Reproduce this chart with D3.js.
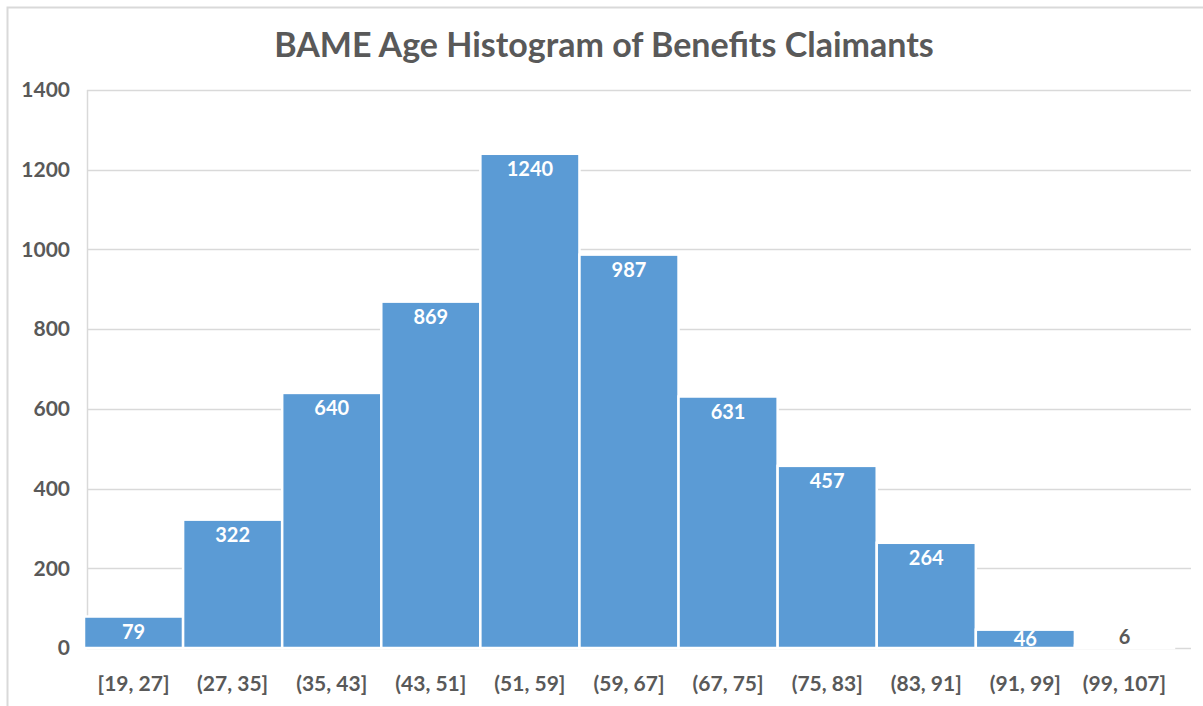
<!DOCTYPE html>
<html>
<head>
<meta charset="utf-8">
<script src="https://cdn.jsdelivr.net/npm/d3@7"></script>
<style>
  body { margin: 0; background: #fff; }
  svg text { font-family: Lato, "Open Sans", sans-serif; }
</style>
</head>
<body>
<div id="chart"></div>
<script>
// histogram bins and counts
var bins = ["[19, 27]", "(27, 35]", "(35, 43]", "(43, 51]", "(51, 59]", "(59, 67]",
            "(67, 75]", "(75, 83]", "(83, 91]", "(91, 99]", "(99, 107]"];
var counts = [79, 322, 640, 869, 1240, 987, 631, 457, 264, 46, 6];
var yTicks = [0, 200, 400, 600, 800, 1000, 1200, 1400];
var title = "BAME Age Histogram of Benefits Claimants";

var width = 1203, height = 706;
var svg = d3.select("#chart").append("svg")
    .attr("width", width)
    .attr("height", height);

// chart frame (cropped screenshot edges)
svg.append("path")
    .attr("d", "M7.5," + height + "V7.5H" + width)
    .attr("fill", "none")
    .attr("stroke", "#d9d9d9")
    .attr("stroke-width", 2);

svg.append("text")
    .attr("x", 604)
    .attr("y", 57)
    .attr("text-anchor", "middle")
    .attr("font-size", 34)
    .attr("font-weight", "bold")
    .attr("fill", "#595959")
    .text(title);

var x = d3.scaleBand()
    .domain(bins)
    .range([84, 1174])
    .padding(0);

var y = d3.scaleLinear()
    .domain([0, 1400])
    .range([648, 90]);

// gridlines
svg.append("g").selectAll("line")
    .data(yTicks)
    .enter().append("line")
      .attr("x1", 87)
      .attr("x2", 1191)
      .attr("y1", function(d) { return Math.round(y(d)) + 0.5; })
      .attr("y2", function(d) { return Math.round(y(d)) + 0.5; })
      .attr("stroke", "#d9d9d9")
      .attr("stroke-width", 1.5);

// vertical axis line
svg.append("line")
    .attr("x1", 87.5).attr("x2", 87.5)
    .attr("y1", y(1400)).attr("y2", y(0))
    .attr("stroke", "#d9d9d9")
    .attr("stroke-width", 1.5);

// y tick labels
svg.append("g").selectAll("text")
    .data(yTicks)
    .enter().append("text")
      .attr("x", 70)
      .attr("y", function(d) { return y(d); })
      .attr("dy", "0.35em")
      .attr("text-anchor", "end")
      .attr("font-size", 21)
      .attr("font-weight", "bold")
      .attr("fill", "#595959")
      .text(function(d) { return d; });

// bars
svg.append("g").selectAll("rect")
    .data(counts)
    .enter().append("rect")
      .attr("x", function(d, i) { return x(bins[i]); })
      .attr("width", x.bandwidth())
      .attr("y", function(d) { return y(d); })
      .attr("height", function(d) { return y(0) - y(d); })
      .attr("fill", "#5b9bd5")
      .attr("stroke", "#fff")
      .attr("stroke-width", 2.5);

// data labels
svg.append("g").selectAll("text")
    .data(counts)
    .enter().append("text")
      .attr("x", function(d, i) { return x(bins[i]) + x.bandwidth() / 2; })
      .attr("y", function(d) {
        if (d < 20) return y(d) - 9;
        return Math.min(y(d) + 15, (y(d) + y(0)) / 2);
      })
      .attr("dy", "0.35em")
      .attr("text-anchor", "middle")
      .attr("font-size", 20)
      .attr("font-weight", "bold")
      .attr("fill", function(d) { return d < 20 ? "#595959" : "#fff"; })
      .text(function(d) { return d; });

// x tick labels
svg.append("g").selectAll("text")
    .data(bins)
    .enter().append("text")
      .attr("x", function(d) { return x(d) + x.bandwidth() / 2; })
      .attr("y", 684)
      .attr("dy", "0.35em")
      .attr("text-anchor", "middle")
      .attr("font-size", 21)
      .attr("font-weight", "bold")
      .attr("fill", "#595959")
      .text(function(d) { return d; });
</script>
</body>
</html>
